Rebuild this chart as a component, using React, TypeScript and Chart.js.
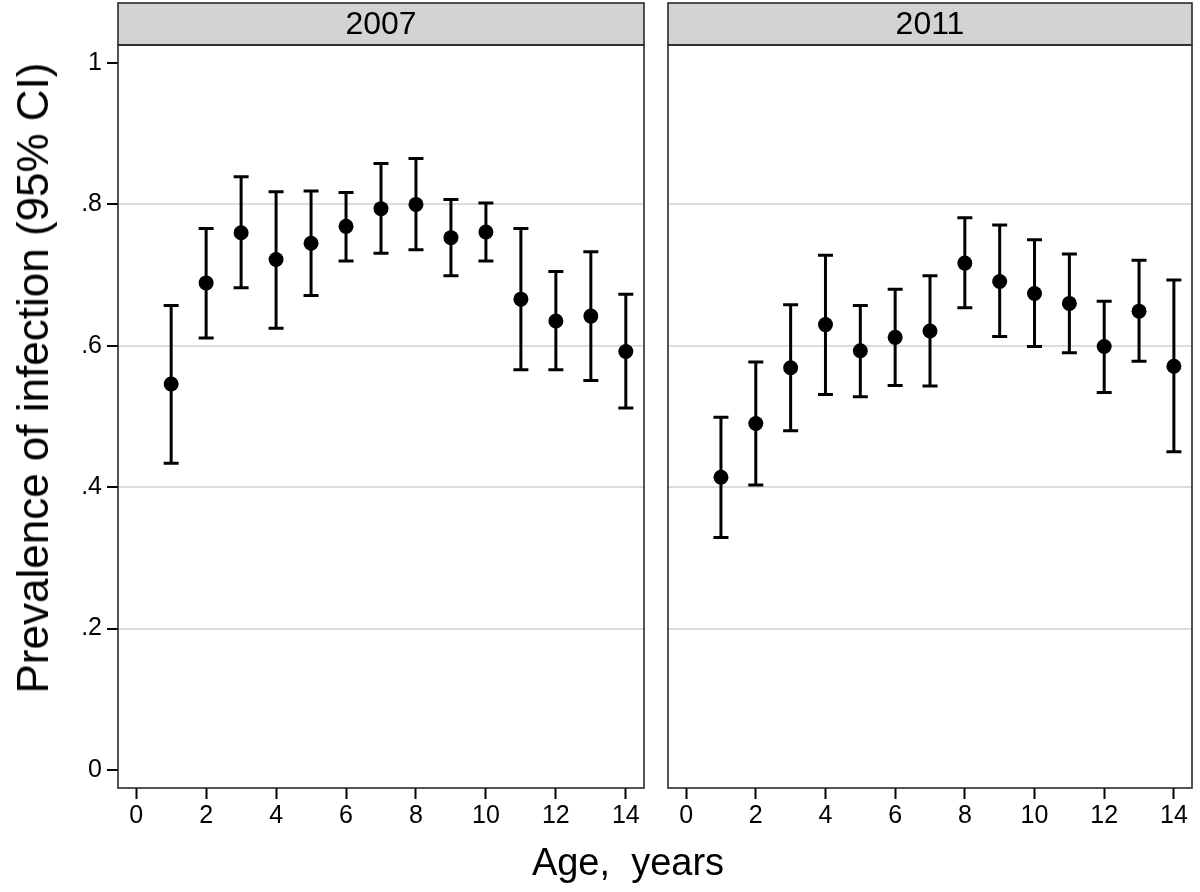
import React, { useEffect, useRef } from "react";
import { Chart, registerables } from "chart.js";

Chart.register(...registerables);

// ---------- data ----------
const ages = [1, 2, 3, 4, 5, 6, 7, 8, 9, 10, 11, 12, 13, 14];

const prev2007 = [0.546, 0.689, 0.760, 0.722, 0.745, 0.769, 0.794, 0.800, 0.753, 0.761, 0.666, 0.635, 0.642, 0.592];
const lower2007 = [0.434, 0.611, 0.682, 0.625, 0.671, 0.720, 0.731, 0.736, 0.699, 0.720, 0.566, 0.566, 0.551, 0.512];
const upper2007 = [0.657, 0.766, 0.839, 0.818, 0.819, 0.817, 0.858, 0.865, 0.807, 0.802, 0.766, 0.705, 0.733, 0.673];

const prev2011 = [0.414, 0.490, 0.569, 0.630, 0.593, 0.612, 0.621, 0.717, 0.691, 0.674, 0.660, 0.599, 0.649, 0.571];
const lower2011 = [0.329, 0.403, 0.480, 0.531, 0.528, 0.544, 0.543, 0.654, 0.613, 0.599, 0.590, 0.534, 0.578, 0.450];
const upper2011 = [0.499, 0.577, 0.658, 0.728, 0.657, 0.680, 0.699, 0.781, 0.771, 0.750, 0.730, 0.663, 0.721, 0.693];

const yTicks = [0, 0.2, 0.4, 0.6, 0.8, 1];
const xTicks = [0, 2, 4, 6, 8, 10, 12, 14];
const panelTitles = ["2007", "2011"];
const yAxisTitle = "Prevalence of infection (95% CI)";
const xAxisTitle = "Age,  years";

// ---------- style ----------
const FONT = "'Liberation Sans', Arial, Helvetica, sans-serif";

function fmtY(v: number): string {
  const r = Math.round(v * 10) / 10;
  if (r === 0) return "0";
  if (r === 1) return "1";
  return "." + Math.round(r * 10);
}

function makePanelPlugin(lower: number[], upper: number[], title: string) {
  return {
    id: "panelDecor",
    beforeDatasetsDraw(chart: any) {
      const { ctx, scales } = chart;
      const xs = scales.x;
      const ys = scales.y;
      ctx.save();
      ctx.strokeStyle = "#000";
      ctx.lineWidth = 3;
      ctx.lineCap = "butt";
      for (let i = 0; i < ages.length; i++) {
        const x = xs.getPixelForValue(ages[i]);
        const yl = ys.getPixelForValue(lower[i]);
        const yu = ys.getPixelForValue(upper[i]);
        ctx.beginPath();
        ctx.moveTo(x, yl);
        ctx.lineTo(x, yu);
        ctx.moveTo(x - 7.5, yl);
        ctx.lineTo(x + 7.5, yl);
        ctx.moveTo(x - 7.5, yu);
        ctx.lineTo(x + 7.5, yu);
        ctx.stroke();
      }
      ctx.restore();
    },
    afterDraw(chart: any) {
      const { ctx, chartArea } = chart;
      const { left, right, top, bottom } = chartArea;
      ctx.save();
      // header strip
      ctx.fillStyle = "#d3d3d3";
      ctx.fillRect(left, 3, right - left, top - 3);
      ctx.strokeStyle = "#2a2a2a";
      ctx.lineWidth = 1.6;
      ctx.strokeRect(left, 3, right - left, top - 3);
      ctx.fillStyle = "#000";
      ctx.font = `32px ${FONT}`;
      ctx.textAlign = "center";
      ctx.textBaseline = "middle";
      ctx.fillText(title, (left + right) / 2, (3 + top) / 2 + 1);
      // frame
      ctx.strokeRect(left, top, right - left, bottom - top);
      ctx.restore();
    },
  };
}

type PanelProps = {
  canvasLeft: number;
  canvasWidth: number;
  yWidth: number;
  rightPad: number;
  showY: boolean;
  values: number[];
  lower: number[];
  upper: number[];
  title: string;
};

function Panel(props: PanelProps) {
  const ref = useRef<HTMLCanvasElement | null>(null);
  useEffect(() => {
    if (!ref.current) return;
    const chart = new Chart(ref.current, {
      type: "scatter",
      data: {
        datasets: [
          {
            data: ages.map((a, i) => ({ x: a, y: props.values[i] })),
            pointRadius: 7.5,
            pointHoverRadius: 7.5,
            backgroundColor: "#000",
            borderColor: "#000",
            borderWidth: 0,
          },
        ],
      },
      options: {
        responsive: false,
        animation: false,
        events: [],
        layout: { padding: { top: 45, right: props.rightPad, left: 0, bottom: 0 } },
        plugins: { legend: { display: false }, tooltip: { enabled: false }, title: { display: false } },
        scales: {
          x: {
            type: "linear",
            min: -0.52,
            max: 14.52,
            afterBuildTicks: (s: any) => {
              s.ticks = xTicks.map((v) => ({ value: v }));
            },
            afterFit: (s: any) => {
              s.height = 104;
            },
            border: { display: false },
            grid: { drawOnChartArea: false, drawTicks: true, tickLength: 11, tickColor: "#000", tickWidth: 2 },
            ticks: {
              color: "#000",
              font: { family: FONT, size: 25 },
              padding: 2,
              maxRotation: 0,
              autoSkip: false,
              callback: (v: any) => String(v),
            },
          },
          y: {
            type: "linear",
            min: -0.0255,
            max: 1.0255,
            afterBuildTicks: (s: any) => {
              s.ticks = yTicks.map((v) => ({ value: v }));
            },
            afterFit: (s: any) => {
              s.width = props.yWidth;
            },
            border: { display: false },
            grid: {
              color: (c: any) =>
                c.tick && c.tick.value > 0.05 && c.tick.value < 0.95 ? "#dcdcdc" : "rgba(0,0,0,0)",
              lineWidth: 2,
              drawTicks: props.showY,
              tickLength: props.showY ? 11 : 0,
              tickColor: "#000",
              tickWidth: 2,
            },
            ticks: {
              display: props.showY,
              color: "#000",
              font: { family: FONT, size: 25 },
              padding: 5,
              autoSkip: false,
              callback: (v: any) => fmtY(Number(v)),
            },
          },
        },
      },
      plugins: [makePanelPlugin(props.lower, props.upper, props.title)],
    } as any);
    return () => chart.destroy();
  }, []);
  return (
    <canvas
      ref={ref}
      width={props.canvasWidth}
      height={892}
      style={{ position: "absolute", left: props.canvasLeft, top: 0, width: props.canvasWidth, height: 892 }}
    />
  );
}

export default function App() {
  return (
    <div
      style={{
        position: "absolute",
        left: 0,
        top: 0,
        width: 1200,
        height: 892,
        background: "#fff",
        overflow: "hidden",
        fontFamily: FONT,
      }}
    >
      <Panel
        canvasLeft={0}
        canvasWidth={656}
        yWidth={118}
        rightPad={12}
        showY={true}
        values={prev2007}
        lower={lower2007}
        upper={upper2007}
        title={panelTitles[0]}
      />
      <Panel
        canvasLeft={656}
        canvasWidth={544}
        yWidth={12}
        rightPad={8}
        showY={false}
        values={prev2011}
        lower={lower2011}
        upper={upper2011}
        title={panelTitles[1]}
      />
      <div
        style={{
          position: "absolute",
          left: 33,
          top: 378,
          transform: "translate(-50%, -50%) rotate(-90deg)",
          whiteSpace: "nowrap",
          fontSize: 44,
          lineHeight: 1,
          color: "#000",
        }}
      >
        {yAxisTitle}
      </div>
      <div
        style={{
          position: "absolute",
          left: 628,
          top: 862,
          transform: "translate(-50%, -50%)",
          whiteSpace: "pre",
          fontSize: 38,
          lineHeight: 1,
          color: "#000",
        }}
      >
        {xAxisTitle}
      </div>
    </div>
  );
}
